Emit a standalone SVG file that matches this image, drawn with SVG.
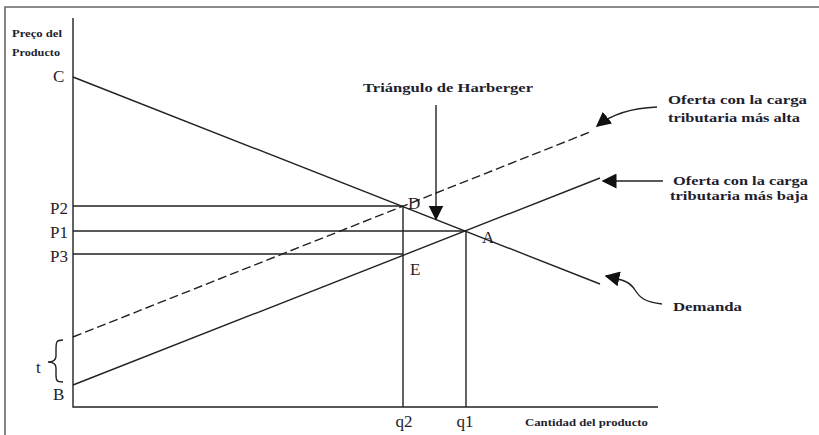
<svg xmlns="http://www.w3.org/2000/svg" width="819" height="435" viewBox="0 0 819 435">
<defs>
<style>
.ln{stroke:#222;stroke-width:1.4;fill:none}
.fr{stroke:#666;stroke-width:1.6;fill:none}
.ds{stroke-dasharray:9 4}
.lab{font-family:"Liberation Serif",serif;font-size:17px;fill:#1e1e28}
.bd{font-family:"Liberation Serif",serif;font-weight:bold;fill:#1e1e2e}
</style>
<marker id="ah" viewBox="0 0 10 10" refX="9" refY="5" markerWidth="15" markerHeight="15" markerUnits="userSpaceOnUse" orient="auto">
<path d="M0,0 L10,5 L0,10 z" fill="#111"/>
</marker>
</defs>
<rect width="819" height="435" fill="#fff"/>
<g id="frame">
<path class="fr" d="M5,435 V7 H819"/>
</g>
<g id="axes">
<path class="ln" d="M73,18 V407 H658"/>
<text class="bd" x="12" y="37" font-size="11" textLength="50" lengthAdjust="spacingAndGlyphs">Preço del</text>
<text class="bd" x="12" y="56" font-size="11" textLength="48" lengthAdjust="spacingAndGlyphs">Producto</text>
<text class="bd" x="525" y="426" font-size="10.5" textLength="123" lengthAdjust="spacingAndGlyphs">Cantidad del producto</text>
</g>
<g id="connectors">
<line class="ln" x1="73" y1="77" x2="600" y2="284"/>
<line class="ln" x1="73" y1="385" x2="600" y2="178"/>
<line class="ln ds" x1="73" y1="337" x2="590" y2="132"/>
<line class="ln" x1="73" y1="206" x2="403" y2="206"/>
<line class="ln" x1="73" y1="231" x2="466" y2="231"/>
<line class="ln" x1="73" y1="254" x2="403" y2="254"/>
<line class="ln" x1="403" y1="206" x2="403" y2="407"/>
<line class="ln" x1="466" y1="231" x2="466" y2="407"/>
<path class="ln" d="M436,105 V219" marker-end="url(#ah)"/>
<path class="ln" d="M657,107 C632,108 612,114 597,126" marker-end="url(#ah)" stroke-width="1.6"/>
<path class="ln" d="M663,181 H603" marker-end="url(#ah)" stroke-width="1.6"/>
<path class="ln" d="M662,304 C645,302 640,298 635,290 C630,282 624,280 606,276" marker-end="url(#ah)" stroke-width="1.6"/>
<path class="ln" stroke-width="1.2" d="M63,340 C56,340 56,342 56,350 V356 C56,360 54,362 48,362 C54,362 56,364 56,368 V375 C56,381 57,382 63,382"/>
</g>
<g id="point-C"><text class="lab" x="53" y="82">C</text></g>
<g id="point-P2"><text class="lab" x="50" y="214">P2</text></g>
<g id="point-P1"><text class="lab" x="50" y="238">P1</text></g>
<g id="point-P3"><text class="lab" x="50" y="262">P3</text></g>
<g id="point-t"><text class="lab" x="36" y="373">t</text></g>
<g id="point-B"><text class="lab" x="53" y="400">B</text></g>
<g id="point-D"><text class="lab" x="408" y="209">D</text></g>
<g id="point-A"><text class="lab" x="482" y="243">A</text></g>
<g id="point-E"><text class="lab" x="410" y="275">E</text></g>
<g id="point-q2"><text class="lab" x="404" y="427" text-anchor="middle">q2</text></g>
<g id="point-q1"><text class="lab" x="465" y="427" text-anchor="middle">q1</text></g>
<g id="label-harberger"><text class="bd" x="363" y="92" font-size="13.5" textLength="170" lengthAdjust="spacingAndGlyphs">Triángulo de Harberger</text></g>
<g id="label-oferta-alta">
<text class="bd" x="668" y="104" font-size="13.5" textLength="139" lengthAdjust="spacingAndGlyphs">Oferta con la carga</text>
<text class="bd" x="668" y="122" font-size="13.5" textLength="132" lengthAdjust="spacingAndGlyphs">tributaria más alta</text>
</g>
<g id="label-oferta-baja">
<text class="bd" x="673" y="185" font-size="13.5" textLength="135" lengthAdjust="spacingAndGlyphs">Oferta con la carga</text>
<text class="bd" x="670" y="200" font-size="13.5" textLength="138" lengthAdjust="spacingAndGlyphs">tributaria más baja</text>
</g>
<g id="label-demanda"><text class="bd" x="673" y="311" font-size="13" textLength="69" lengthAdjust="spacingAndGlyphs">Demanda</text></g>
</svg>
